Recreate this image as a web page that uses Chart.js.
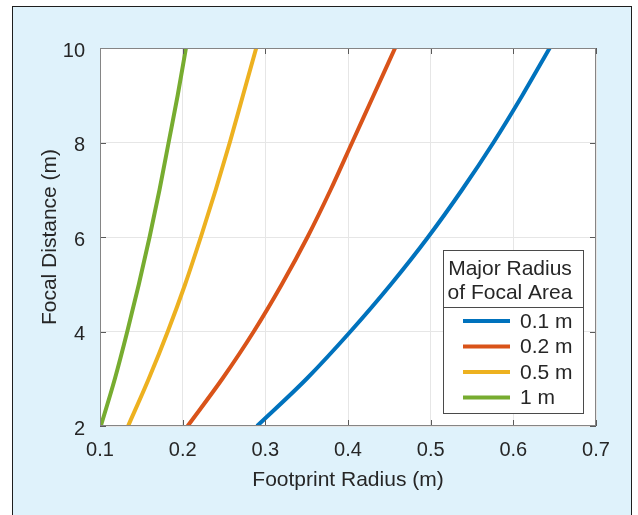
<!DOCTYPE html>
<html>
<head>
<meta charset="utf-8">
<script src="https://cdn.jsdelivr.net/npm/chart.js@4.4.0/dist/chart.umd.min.js"></script>
<style>
  html, body { margin: 0; padding: 0; background: #ffffff; }
  body { width: 638px; height: 515px; position: relative; overflow: hidden; }
  #frame {
    position: absolute; left: 12px; top: 6px; width: 620px; height: 520px;
    box-sizing: border-box; border: 1px solid #1e1e1e; background: #dff2fb;
  }
  #grafico { position: absolute; left: 0; top: 0; }
</style>
</head>
<body>
<div id="frame"></div>
<canvas id="grafico" width="638" height="515"></canvas>
<script>
// Dados
const focalDistance = [2, 3, 4, 5, 6, 7, 8, 9, 10];
const raio01 = [0.290, 0.350, 0.403, 0.452, 0.497, 0.538, 0.576, 0.611, 0.644];
const raio02 = [0.206, 0.248, 0.286, 0.320, 0.351, 0.379, 0.405, 0.431, 0.457];
const raio05 = [0.134, 0.159, 0.182, 0.203, 0.222, 0.240, 0.257, 0.273, 0.289];
const raio1 = [0.101, 0.118, 0.133, 0.147, 0.160, 0.172, 0.183, 0.194, 0.204];

const seriesLabels = ["0.1 m", "0.2 m", "0.5 m", "1 m"];
const seriesColors = ["#0072BD", "#D95319", "#EDB120", "#77AC30"];
const legendTitle = ["Major Radius", "of Focal Area"];

const xTicks = [0.1, 0.2, 0.3, 0.4, 0.5, 0.6, 0.7];
const yTicks = [2, 4, 6, 8, 10];

const textColor = "#262626";
const fonte = "'Liberation Sans', Arial, Helvetica, sans-serif";

function montarPontos(xs) {
    return xs.map((x, i) => ({ x: x, y: focalDistance[i] }));
}

const datasets = [raio01, raio02, raio05, raio1].map((serie, i) => ({
    label: seriesLabels[i],
    data: montarPontos(serie),
    borderColor: seriesColors[i],
    backgroundColor: seriesColors[i],
    borderWidth: 4,
    pointRadius: 0,
    cubicInterpolationMode: "monotone",
    fill: false,
    clip: 0
}));

// Fundo branco da área do gráfico, caixa e ticks internos (estilo MATLAB)
const eixosPlugin = {
    id: "eixosPlugin",
    beforeDraw(chart) {
        const { ctx, chartArea: a } = chart;
        ctx.save();
        ctx.fillStyle = "#ffffff";
        ctx.fillRect(a.left, a.top, a.right - a.left, a.bottom - a.top);
        ctx.restore();
    },
    afterDatasetsDraw(chart) {
        const { ctx, chartArea: a, scales } = chart;
        ctx.save();
        ctx.strokeStyle = "#5a5a5a";
        ctx.lineWidth = 1;
        ctx.beginPath();
        xTicks.forEach(v => {
            const px = Math.round(scales.x.getPixelForValue(v)) + 0.5;
            ctx.moveTo(px, a.bottom); ctx.lineTo(px, a.bottom - 6);
            ctx.moveTo(px, a.top); ctx.lineTo(px, a.top + 6);
        });
        yTicks.forEach(v => {
            const py = Math.round(scales.y.getPixelForValue(v)) + 0.5;
            ctx.moveTo(a.left, py); ctx.lineTo(a.left + 6, py);
            ctx.moveTo(a.right, py); ctx.lineTo(a.right - 6, py);
        });
        ctx.stroke();
        ctx.strokeStyle = "#858585";
        ctx.strokeRect(a.left + 0.5, a.top + 0.5, a.right - a.left - 1, a.bottom - a.top - 1);
        ctx.restore();
    }
};

// Legenda desenhada dentro do gráfico
const legendaPlugin = {
    id: "legendaPlugin",
    afterDraw(chart) {
        const ctx = chart.ctx;
        const a = chart.chartArea;
        const x0 = a.right - 153, y0 = 250, w = 140, h = 163;
        ctx.save();
        ctx.fillStyle = "#ffffff";
        ctx.fillRect(x0, y0, w, h);
        ctx.strokeStyle = "#4a4a4a";
        ctx.lineWidth = 1;
        ctx.strokeRect(x0 + 0.5, y0 + 0.5, w, h);
        ctx.beginPath();
        ctx.moveTo(x0, y0 + 57.5); ctx.lineTo(x0 + w, y0 + 57.5);
        ctx.stroke();

        ctx.fillStyle = textColor;
        ctx.font = "21px " + fonte;
        ctx.textAlign = "center";
        ctx.textBaseline = "alphabetic";
        legendTitle.forEach((t, i) => ctx.fillText(t, x0 + w / 2 - 3, y0 + 25 + i * 24));

        ctx.font = "21px " + fonte;
        ctx.textAlign = "left";
        ctx.textBaseline = "middle";
        chart.data.datasets.forEach((ds, i) => {
            const y = y0 + 71 + i * 25.5;
            ctx.strokeStyle = ds.borderColor;
            ctx.lineWidth = 4;
            ctx.beginPath();
            ctx.moveTo(x0 + 20, y); ctx.lineTo(x0 + 67, y);
            ctx.stroke();
            ctx.fillText(ds.label, x0 + 77, y + 1);
        });
        ctx.restore();
    }
};

const ctx = document.getElementById("grafico").getContext("2d");
new Chart(ctx, {
    type: "line",
    data: { datasets },
    plugins: [eixosPlugin, legendaPlugin],
    options: {
        responsive: false,
        devicePixelRatio: 1,
        animation: false,
        layout: { padding: { left: 0, top: 48, right: 42, bottom: 0 } },
        plugins: { legend: { display: false }, tooltip: { enabled: false } },
        scales: {
            x: {
                type: "linear",
                min: 0.1,
                max: 0.7,
                afterBuildTicks: s => { s.ticks = xTicks.map(v => ({ value: v })); },
                afterFit: s => { s.height = 89; },
                grid: { color: "#e6e6e6", drawTicks: false },
                border: { display: false },
                ticks: {
                    color: textColor,
                    font: { family: fonte, size: 20 },
                    padding: 12,
                    maxRotation: 0,
                    callback: v => v.toFixed(1)
                },
                title: {
                    display: true,
                    text: "Footprint Radius (m)",
                    color: textColor,
                    font: { family: fonte, size: 21 },
                    padding: { top: 0, bottom: 22 }
                }
            },
            y: {
                type: "linear",
                min: 2,
                max: 10,
                afterBuildTicks: s => { s.ticks = yTicks.map(v => ({ value: v })); },
                afterFit: s => { s.width = 100; },
                grid: { color: "#e6e6e6", drawTicks: false },
                border: { display: false },
                ticks: {
                    color: textColor,
                    font: { family: fonte, size: 20 },
                    padding: 15,
                    labelOffset: 3,
                    callback: v => String(v)
                },
                title: {
                    display: true,
                    text: "Focal Distance (m)",
                    color: textColor,
                    font: { family: fonte, size: 21 },
                    padding: { top: 38, bottom: 0 }
                }
            }
        }
    }
});
</script>
</body>
</html>
